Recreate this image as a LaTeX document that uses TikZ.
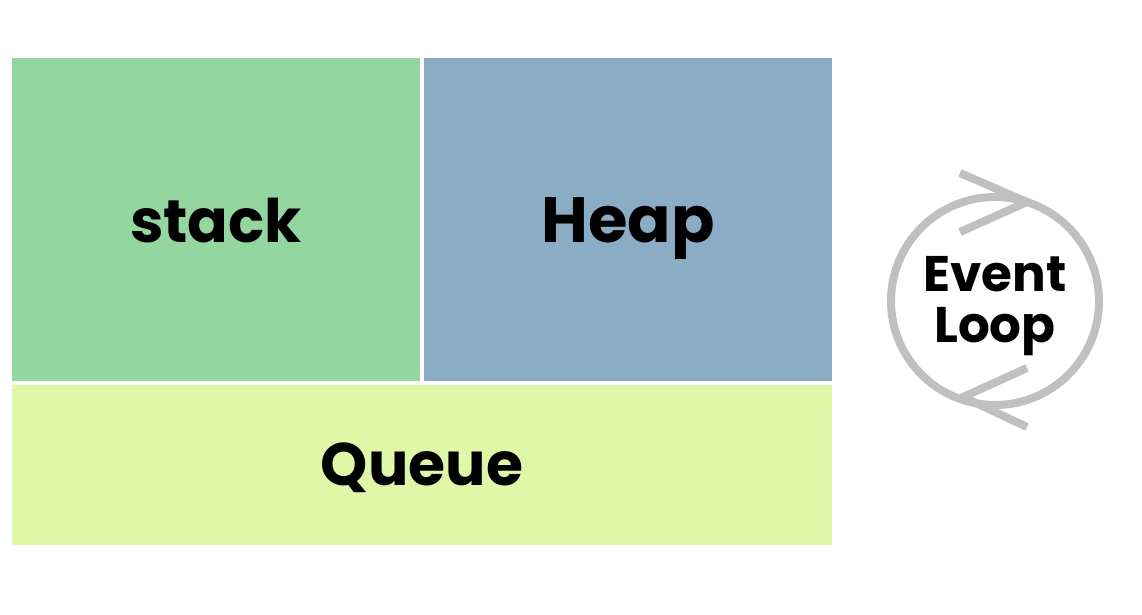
\documentclass[tikz,border=0pt]{standalone}
\usepackage{fontspec}
\setmainfont{Poppins}
\usepackage{tikz}

\definecolor{stackgreen}{RGB}{148,214,160}
\definecolor{heapblue}{RGB}{138,172,196}
\definecolor{queuelime}{RGB}{224,247,168}
\definecolor{loopgray}{RGB}{192,192,192}

\begin{document}
\begin{tikzpicture}[
	x=1pt, y=-1pt,
	box/.style={
		shape=rectangle,
		inner sep=0pt,
		text height=45pt,
		text depth=0pt,
		font=\bfseries\fontsize{64}{64}\selectfont},
	looparc/.style={draw=loopgray, line width=8pt}
	]
	\useasboundingbox (0,0) rectangle (1142,614);
	\fill[white] (0,0) rectangle (1142,614);
	
	\node[box, fill=stackgreen, minimum width=408pt, minimum height=323pt,
		text height=46pt, font=\bfseries\fontsize{60}{60}\selectfont] (stack) at (216,219.5) {stack};
	\node[box, fill=heapblue, minimum width=408pt, minimum height=323pt] (heap) at (628,219.5) {Heap};
	\node[box, fill=queuelime, minimum width=820pt, minimum height=160pt,
		text height=40pt, font=\bfseries\fontsize{60}{60}\selectfont] (queue) at (422,465) {Queue};
	
	\node[align=center, inner sep=0pt, font=\bfseries\fontsize{50}{51}\selectfont] (loop) at (995,306) {Event\\Loop};
	\draw[looparc] (995,301) circle (104);
	\draw[looparc] (960,173) -- (1027,202) -- (960,232);
	\draw[looparc] (1027,368) -- (963,397) -- (1027,427);
\end{tikzpicture}
\end{document}
